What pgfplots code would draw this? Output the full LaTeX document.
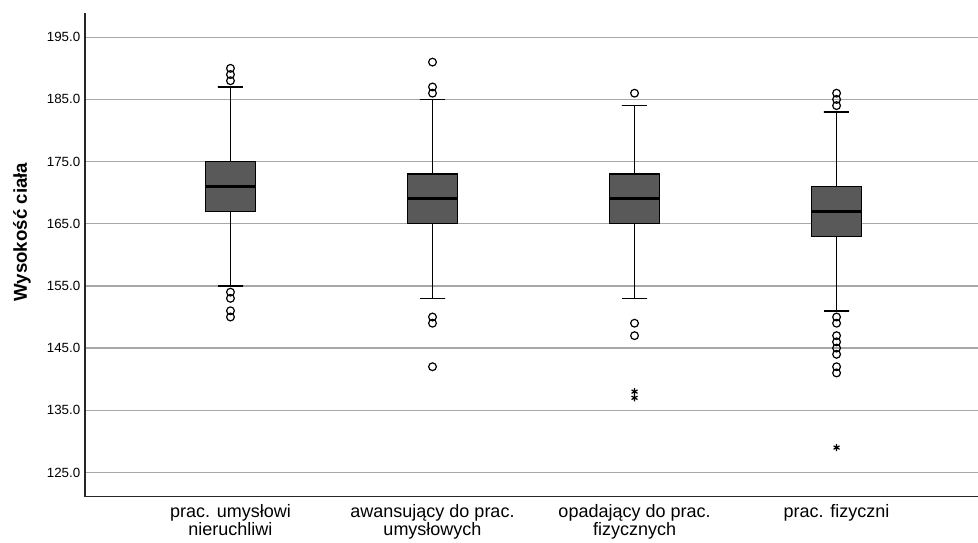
\documentclass[border=0pt]{standalone}
\usepackage{fontspec}
\setmainfont{Liberation Sans}
\usepackage{pgfplots}
\pgfplotsset{compat=1.18}
\definecolor{boxgray}{RGB}{89,89,89}
\definecolor{gridgray}{RGB}{168,168,168}
\begin{document}
\begin{tikzpicture}
\begin{axis}[
  scale only axis, width=669.75pt, height=362.75pt,
  xmin=-0.72, xmax=3.70, ymin=121.1, ymax=198.9,
  axis lines*=left,
  axis line style={line width=0.9pt, black!85},
  ytick={125,135,...,195},
  ymajorgrids, grid style={gridgray, line width=1pt},
  tick style={draw=none},
  xtick={0,1,2,3},
  xticklabels={{prac. umysłowi\\nieruchliwi},{awansujący do prac.\\umysłowych},{opadający do prac.\\fizycznych},{prac. fizyczni}},
  xticklabel style={align=center, font=\fontsize{13.5}{13.5}\selectfont, yshift=-2.5pt},
  yticklabel={\pgfmathprintnumber[fixed,fixed zerofill,precision=1,assume math mode=true]{\tick}},
  yticklabel style={font=\fontsize{10}{12}\selectfont},
  ylabel={Wysokość ciała},
  ylabel style={at={(axis description cs:-0.0705,0.547)}, anchor=center, font=\fontsize{14}{16}\selectfont\bfseries},
  whisk/.style={black, line width=1.1pt, no marks},
  bx/.style={fill=boxgray, draw=black, line width=0.8pt, no marks},
  med/.style={black, line width=2.2pt, no marks},
]
% whiskers with caps (lower whisker, upper whisker)
\addplot[whisk] coordinates {(-0.0625,155) (0.0625,155) (0,155) (0,187) (-0.0625,187) (0.0625,187)};
\addplot[whisk] coordinates {(0.9375,153) (1.0625,153) (1,153) (1,185) (0.9375,185) (1.0625,185)};
\addplot[whisk] coordinates {(1.9375,153) (2.0625,153) (2,153) (2,184) (1.9375,184) (2.0625,184)};
\addplot[whisk] coordinates {(2.9375,151) (3.0625,151) (3,151) (3,183) (2.9375,183) (3.0625,183)};
% boxes (lower quartile, upper quartile)
\addplot[bx] coordinates {(-0.125,167) (0.125,167) (0.125,175) (-0.125,175)} -- cycle;
\addplot[bx] coordinates {(0.875,165) (1.125,165) (1.125,173) (0.875,173)} -- cycle;
\addplot[bx] coordinates {(1.875,165) (2.125,165) (2.125,173) (1.875,173)} -- cycle;
\addplot[bx] coordinates {(2.875,163) (3.125,163) (3.125,171) (2.875,171)} -- cycle;
% medians
\addplot[med] coordinates {(-0.125,171) (0.125,171)};
\addplot[med] coordinates {(0.875,169) (1.125,169)};
\addplot[med] coordinates {(1.875,169) (2.125,169)};
\addplot[med] coordinates {(2.875,167) (3.125,167)};
% outliers (circles)
\addplot[only marks, mark=o, mark size=2.9pt, black, line width=0.9pt] coordinates {
 (0,190) (0,189) (0,188) (0,154) (0,153) (0,151) (0,150)
 (1,191) (1,187) (1,186) (1,150) (1,149) (1,142)
 (2,186) (2,149) (2,147)
 (3,186) (3,185) (3,184) (3,150) (3,149) (3,147) (3,146) (3,145) (3,144) (3,142) (3,141)
};
% extreme values (stars)
\addplot[only marks, mark=asterisk, mark size=2.6pt, black, line width=0.9pt] coordinates {
 (2,138) (2,137) (3,129)
};
\end{axis}
\pgfresetboundingbox
\path ([xshift=-63.75pt,yshift=-34.7pt]current axis.south west) rectangle ([yshift=9.75pt]current axis.north east);
\end{tikzpicture}
\end{document}
